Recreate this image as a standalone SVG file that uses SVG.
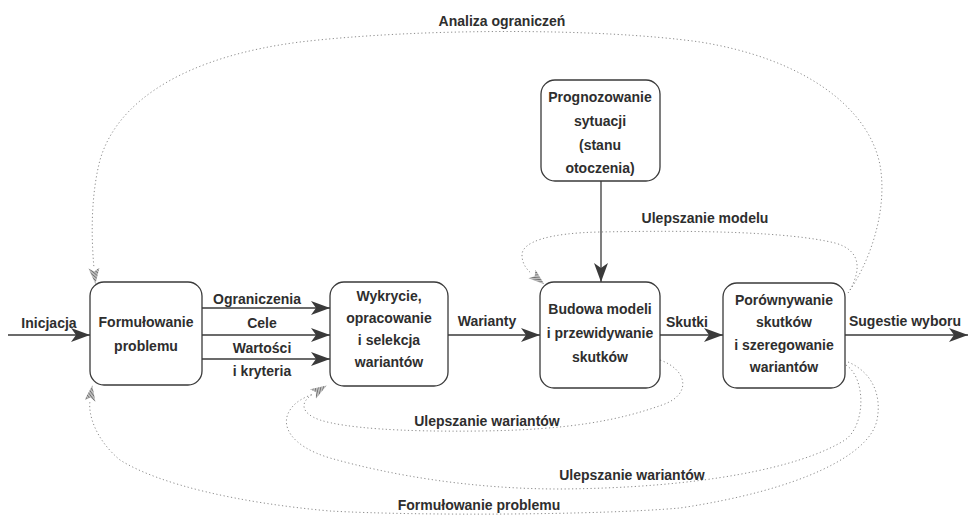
<svg xmlns="http://www.w3.org/2000/svg" width="971" height="516" viewBox="0 0 971 516">
<style>
.box{fill:#fff;stroke:#3a3a3a;stroke-width:1.3}
text{font-family:"Liberation Sans",Arial,sans-serif;font-size:14px;font-weight:bold;fill:#2e2e2e;text-anchor:middle}
.solid{fill:none;stroke:#3a3a3a;stroke-width:1.3}
.dot{fill:none;stroke:#8c8c8c;stroke-width:1;stroke-dasharray:1.2 2.5}
</style>
<defs>
<marker id="arr" markerUnits="userSpaceOnUse" markerWidth="21" markerHeight="15" refX="19" refY="7" orient="auto">
<path d="M0,0 L19,7 L0,14 L5,7 z" fill="#3a3a3a"/>
</marker>
<pattern id="hatch" patternUnits="userSpaceOnUse" width="2.4" height="2.4" patternTransform="rotate(45)">
<rect width="2.4" height="2.4" fill="#bdbdbd"/>
<line x1="0" y1="0" x2="0" y2="2.4" stroke="#555" stroke-width="1.2"/>
</pattern>
<marker id="harr" markerUnits="userSpaceOnUse" markerWidth="18" markerHeight="12" refX="0" refY="5.5" orient="auto">
<path d="M0,0 L16,5.5 L0,11 L3.5,5.5 z" fill="url(#hatch)"/>
</marker>
</defs>

<g id="connectors">
<line class="solid" x1="8" y1="335" x2="90" y2="335" marker-end="url(#arr)"/>
<line class="solid" x1="202" y1="308" x2="330" y2="308" marker-end="url(#arr)"/>
<line class="solid" x1="202" y1="335" x2="330" y2="335" marker-end="url(#arr)"/>
<line class="solid" x1="202" y1="359" x2="330" y2="359" marker-end="url(#arr)"/>
<line class="solid" x1="448" y1="335" x2="540" y2="335" marker-end="url(#arr)"/>
<line class="solid" x1="660" y1="335" x2="723" y2="335" marker-end="url(#arr)"/>
<line class="solid" x1="845" y1="335" x2="968" y2="335" marker-end="url(#arr)"/>
<line class="solid" x1="601" y1="181" x2="601" y2="282" marker-end="url(#arr)"/>
<path class="dot" d="M848,293 C870,262 888,210 880,165 C868,105 800,58 700,42 C600,28 420,28 300,42 C190,56 118,98 100,160 C91,195 91,235 94,268" marker-end="url(#harr)"/>
<path class="dot" d="M850,290 C862,268 860,250 835,243 C790,232 700,230 600,232 C548,233 522,242 522,255 C522,263 526,269 532,274" marker-end="url(#harr)"/>
<path class="dot" d="M660,360 C688,370 692,395 662,405 C620,420 570,430 480,431 C400,432 345,428 320,420 C300,413 300,402 313,394" marker-end="url(#harr)"/>
<path class="dot" d="M846,365 C866,378 866,425 845,440 C800,468 700,488 560,489 C470,489 390,475 330,458 C290,446 280,425 290,410 C295,402 303,398 313,394"/>
<path class="dot" d="M848,362 C872,372 882,395 877,420 C870,455 800,490 680,508 C600,515 420,516 330,511 C240,503 160,485 120,460 C96,440 88,415 90,401" marker-end="url(#harr)"/>
<text x="49" y="328">Inicjacja</text>
<text x="257" y="304">Ograniczenia</text>
<text x="262" y="328">Cele</text>
<text x="262" y="353">Wartości</text>
<text x="262" y="376">i kryteria</text>
<text x="487" y="326">Warianty</text>
<text x="687" y="327">Skutki</text>
<text x="905" y="326">Sugestie wyboru</text>
<text x="502" y="26">Analiza ograniczeń</text>
<text x="705" y="223">Ulepszanie modelu</text>
<text x="487" y="426">Ulepszanie wariantów</text>
<text x="632" y="480">Ulepszanie wariantów</text>
<text x="479" y="510">Formułowanie problemu</text>
</g>

<g id="node-formulowanie">
<rect class="box" x="90" y="282" width="112" height="103" rx="14"/>
<text x="146" y="327">Formułowanie</text>
<text x="146" y="351">problemu</text>
</g>

<g id="node-wykrycie">
<rect class="box" x="330" y="282" width="118" height="104" rx="14"/>
<text x="389" y="301">Wykrycie,</text>
<text x="389" y="323">opracowanie</text>
<text x="389" y="345">i selekcja</text>
<text x="389" y="367">wariantów</text>
</g>

<g id="node-budowa">
<rect class="box" x="540" y="282" width="120" height="106" rx="14"/>
<text x="600" y="314">Budowa modeli</text>
<text x="600" y="338">i przewidywanie</text>
<text x="600" y="362">skutków</text>
</g>

<g id="node-prognozowanie">
<rect class="box" x="541" y="80" width="119" height="101" rx="14"/>
<text x="600" y="102">Prognozowanie</text>
<text x="600" y="126">sytuacji</text>
<text x="600" y="150">(stanu</text>
<text x="600" y="173">otoczenia)</text>
</g>

<g id="node-porownywanie">
<rect class="box" x="723" y="283" width="122" height="105" rx="14"/>
<text x="784" y="305">Porównywanie</text>
<text x="784" y="327">skutków</text>
<text x="784" y="350">i szeregowanie</text>
<text x="784" y="372">wariantów</text>
</g>
</svg>
